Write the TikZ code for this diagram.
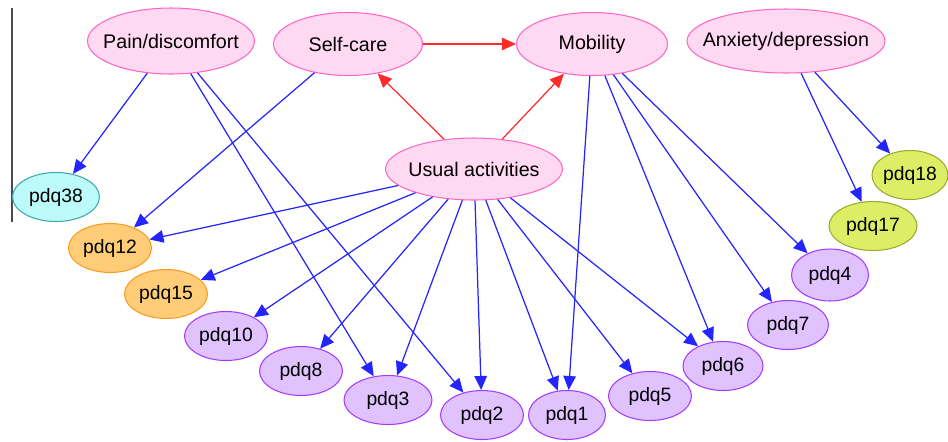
\documentclass[tikz,border=0pt]{standalone}
\usepackage{fontspec}
\setmainfont{Liberation Sans}
\usetikzlibrary{shapes.geometric,arrows.meta}

\definecolor{pinkFill}{HTML}{FFD9F2}
\definecolor{pinkLine}{HTML}{FF66C4}
\definecolor{lilacFill}{HTML}{E0C2FF}
\definecolor{lilacLine}{HTML}{A23CFF}
\definecolor{orangeFill}{HTML}{FFCC77}
\definecolor{orangeLine}{HTML}{FF9A1F}
\definecolor{cyanFill}{HTML}{BDFBFB}
\definecolor{cyanLine}{HTML}{3FA9A9}
\definecolor{limeFill}{HTML}{DDEE66}
\definecolor{limeLine}{HTML}{99AA2E}
\definecolor{edgeBlue}{HTML}{2424FF}
\definecolor{edgeRed}{HTML}{FF2A2A}

% label that does not widen its ellipse
\newcommand{\dimLabel}[1]{\makebox[0pt]{#1}}

\begin{document}
\begin{tikzpicture}[
    x=0.02cm, y=-0.02cm,
    % ellipses for the five dimensions and the items
    dimNode/.style={ellipse, draw=pinkLine, fill=pinkFill, line width=0.6pt,
        inner sep=0pt, minimum height=1.26cm, font=\fontsize{11.2}{13}\selectfont},
    itemNode/.style={ellipse, draw=lilacLine, fill=lilacFill, line width=0.6pt,
        inner sep=0pt, minimum width=1.66cm, minimum height=0.98cm,
        font=\fontsize{11}{13}\selectfont},
    orangeItem/.style={itemNode, draw=orangeLine, fill=orangeFill},
    cyanItem/.style={itemNode, draw=cyanLine, fill=cyanFill},
    limeItem/.style={itemNode, draw=limeLine, fill=limeFill},
    % connectors
    causeEdge/.style={draw=edgeRed, line width=0.7pt,
        -{Triangle[length=2.8mm,width=2.5mm]}},
    itemEdge/.style={draw=edgeBlue, line width=0.7pt,
        -{Triangle[length=2.8mm,width=2.5mm]}}
]
    \useasboundingbox (0,0) rectangle (948,441);

    % thin rule at the left
    \draw[gray!60!black, line width=0.6pt] (12,8) -- (12,222);

    % top row: dimensions
    \node[dimNode, minimum width=3.34cm, minimum height=1.32cm] (pain) at (171,41) {\dimLabel{Pain/discomfort}};
    \node[dimNode, minimum width=2.98cm] (selfcare) at (348,44) {\dimLabel{Self-care}};
    \node[dimNode, minimum width=3.02cm] (mobility) at (592,44) {\dimLabel{Mobility}};
    \node[dimNode, minimum width=3.96cm, minimum height=1.28cm] (anxiety) at (786,41) {\dimLabel{Anxiety/depression}};
    \node[dimNode, minimum width=3.54cm, minimum height=1.24cm] (usual) at (474,169) {\dimLabel{Usual activities}};

    % items round the bottom
    \node[cyanItem, minimum width=1.74cm] (pdq38) at (56,197) {pdq38};
    \node[orangeItem] (pdq12) at (110,248) {pdq12};
    \node[orangeItem] (pdq15) at (166,294) {pdq15};
    \node[itemNode] (pdq10) at (226,336) {pdq10};
    \node[itemNode] (pdq8) at (301,371) {pdq8};
    \node[itemNode, minimum width=1.76cm] (pdq3) at (388,400) {pdq3};
    \node[itemNode] (pdq2) at (482,415) {pdq2};
    \node[itemNode, minimum width=1.54cm] (pdq1) at (567,415) {pdq1};
    \node[itemNode] (pdq5) at (650,396) {pdq5};
    \node[itemNode, minimum width=1.6cm] (pdq6) at (723,366) {pdq6};
    \node[itemNode, minimum width=1.62cm] (pdq7) at (788,325) {pdq7};
    \node[itemNode, minimum width=1.54cm, minimum height=1.04cm] (pdq4) at (830,275) {pdq4};
    \node[limeItem, minimum width=1.76cm] (pdq17) at (873,226) {pdq17};
    \node[limeItem, minimum width=1.48cm] (pdq18) at (910,175) {pdq18};

    % red links between dimensions
    \draw[causeEdge] (selfcare) -- (mobility);
    \draw[causeEdge] (usual) -- (selfcare);
    \draw[causeEdge] (usual) -- (mobility);

    % Pain/discomfort
    \draw[itemEdge] (pain) -- (pdq38);
    \draw[itemEdge] (pain) -- (pdq3);
    \draw[itemEdge] (pain) -- (pdq2);

    % Self-care
    \draw[itemEdge] (selfcare) -- (pdq12);

    % Usual activities
    \draw[itemEdge] (usual) -- (pdq12);
    \draw[itemEdge] (usual) -- (pdq15);
    \draw[itemEdge] (usual) -- (pdq10);
    \draw[itemEdge] (usual) -- (pdq8);
    \draw[itemEdge] (usual) -- (pdq3);
    \draw[itemEdge] (usual) -- (pdq2);
    \draw[itemEdge] (usual) -- (pdq1);
    \draw[itemEdge] (usual) -- (pdq5);
    \draw[itemEdge] (usual) -- (pdq6);

    % Mobility
    \draw[itemEdge] (mobility) -- (pdq1);
    \draw[itemEdge] (mobility) -- (pdq6);
    \draw[itemEdge] (mobility) -- (pdq7);
    \draw[itemEdge] (mobility) -- (pdq4);

    % Anxiety/depression
    \draw[itemEdge] (anxiety) -- (pdq17);
    \draw[itemEdge] (anxiety) -- (pdq18);
\end{tikzpicture}
\end{document}
